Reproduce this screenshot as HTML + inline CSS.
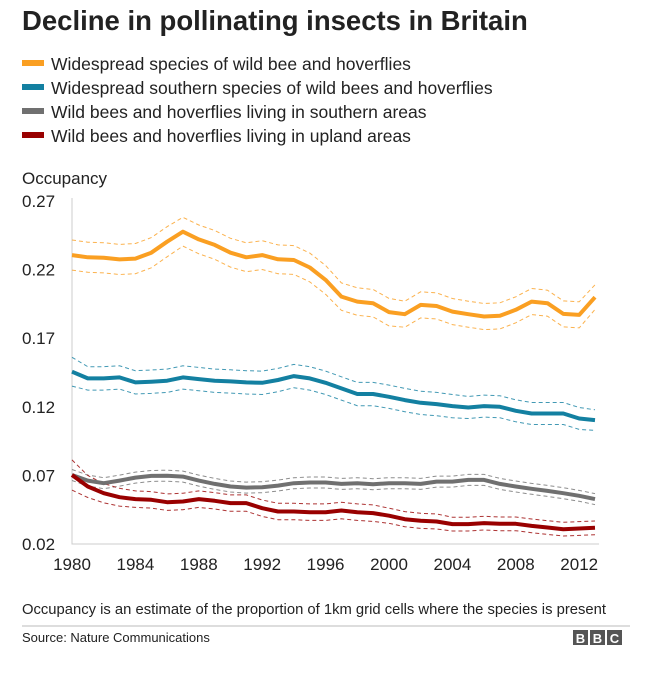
<!DOCTYPE html>
<html><head><meta charset="utf-8"><style>
body{margin:0;background:#fff;font-family:"Liberation Sans",Arial,sans-serif;}
#wrap{position:relative;width:652px;height:679px;overflow:hidden;}
.t{position:absolute;color:#222;white-space:nowrap;}
</style></head><body>
<div id="wrap">
<div class="t" style="left:22px;top:5px;font-size:27.5px;font-weight:bold;">Decline in pollinating insects in Britain</div>
<svg id="ch" width="652" height="679" style="position:absolute;left:0;top:0"></svg>
</div>
<script>
const years=[];for(let y=1980;y<=2013;y++)years.push(y);
const xTicks=[1980,1984,1988,1992,1996,2000,2004,2008,2012];
const yTicks=[0.02,0.07,0.12,0.17,0.22,0.27];
const seriesNames=["Widespread species of wild bee and hoverflies","Widespread southern species of wild bees and hoverflies","Wild bees and hoverflies living in southern areas","Wild bees and hoverflies living in upland areas"];
const colors=["#fa9f22","#1380a1","#707070","#990000"];
const orange=[0.2306,0.229,0.2286,0.2274,0.228,0.2323,0.2403,0.2476,0.242,0.238,0.2323,0.229,0.2306,0.2275,0.227,0.2215,0.2125,0.2003,0.1967,0.1955,0.189,0.1875,0.1943,0.1935,0.1894,0.1875,0.1858,0.1863,0.1907,0.1967,0.1955,0.1877,0.187,0.1999];
const teal=[0.1456,0.1407,0.1407,0.1414,0.1378,0.1383,0.139,0.1414,0.1402,0.139,0.1385,0.1378,0.1375,0.1395,0.1424,0.1407,0.1375,0.1334,0.1293,0.1293,0.1273,0.1249,0.1229,0.122,0.1205,0.1195,0.1205,0.12,0.1171,0.1151,0.1151,0.1151,0.1115,0.1103];
const grey=[0.0703,0.0662,0.0643,0.0662,0.0684,0.0696,0.0698,0.0691,0.0662,0.0638,0.0619,0.0611,0.0614,0.0626,0.0643,0.0648,0.0648,0.0638,0.0643,0.0636,0.0643,0.0643,0.0638,0.0655,0.0655,0.0667,0.0667,0.0638,0.0619,0.0602,0.0587,0.057,0.0551,0.0527];
const red=[0.0703,0.0619,0.057,0.0541,0.0527,0.0522,0.0505,0.051,0.0527,0.0515,0.0498,0.0498,0.0461,0.0437,0.0437,0.0432,0.0432,0.0444,0.0432,0.0425,0.0406,0.0381,0.0369,0.0364,0.0345,0.0345,0.0352,0.0347,0.0347,0.0332,0.032,0.0308,0.0313,0.0318];
const ciOrange=[0.011,0.011,0.011,0.011,0.011,0.011,0.011,0.0105,0.0105,0.0105,0.0105,0.0105,0.0105,0.0105,0.0105,0.0105,0.0105,0.01,0.01,0.01,0.01,0.0095,0.0095,0.0095,0.0095,0.0095,0.0095,0.0095,0.0095,0.0095,0.0095,0.0095,0.0095,0.009];
const ciTeal=[0.0105,0.0085,0.0085,0.0085,0.0085,0.0085,0.0085,0.0085,0.0085,0.0085,0.0085,0.0085,0.0085,0.0085,0.0085,0.0085,0.0085,0.0085,0.0085,0.0085,0.0085,0.0085,0.0085,0.0085,0.0085,0.008,0.008,0.008,0.008,0.008,0.008,0.008,0.008,0.0075];
const ciGrey=[0.004,0.004,0.004,0.004,0.004,0.004,0.004,0.004,0.004,0.004,0.004,0.004,0.004,0.004,0.004,0.004,0.004,0.004,0.004,0.004,0.004,0.004,0.004,0.004,0.004,0.004,0.004,0.004,0.004,0.004,0.004,0.004,0.004,0.004];
const ciRed=[0.011,0.008,0.007,0.0065,0.006,0.006,0.006,0.006,0.006,0.006,0.006,0.006,0.006,0.006,0.006,0.006,0.006,0.006,0.006,0.006,0.0055,0.0055,0.0055,0.0055,0.005,0.005,0.005,0.005,0.005,0.005,0.005,0.005,0.005,0.005];
const series=[orange,teal,grey,red];
const cis=[ciOrange,ciTeal,ciGrey,ciRed];
const NS="http://www.w3.org/2000/svg";
const svg=document.getElementById('ch');
const X=y=>72+(y-1980)*15.85;
const Y=v=>201+(0.27-v)*1372;
const FF='Liberation Sans, Arial, sans-serif';
function mk(tag,attrs,parent){const e=document.createElementNS(NS,tag);for(const k in attrs)e.setAttribute(k,attrs[k]);(parent||svg).appendChild(e);return e;}
seriesNames.forEach((n,i)=>{
 const g=mk('g',{});
 
 
 const yy=64+i*24;
 mk('rect',{x:22,y:yy-4,width:22,height:6,fill:colors[i]},g);
 const t=mk('text',{x:51,y:yy+6,'font-size':17.5,fill:'#222','font-family':FF},g);t.textContent=n;
});
const yt=mk('text',{x:22,y:184,'font-size':17,fill:'#222','font-family':FF});yt.textContent='Occupancy';


yTicks.forEach(v=>{
 const t=mk('text',{x:22,y:Y(v)+6,'font-size':17,fill:'#222','font-family':FF});t.textContent=v.toFixed(2);
 
 
});
xTicks.forEach(v=>{
 const t=mk('text',{x:X(v),y:570,'font-size':17,fill:'#222','text-anchor':'middle','font-family':FF});t.textContent=v;
 
 
});
const ax=mk('path',{d:`M${X(1980)} 198 V${Y(0.02)} H${X(2013)+4}`,stroke:'#ccc','stroke-width':1,fill:'none'});


const pathOf=arr=>arr.map((v,i)=>(i?'L':'M')+X(years[i]).toFixed(1)+' '+Y(v).toFixed(1)).join(' ');
series.forEach((s,k)=>{
 const up=s.map((v,i)=>v+cis[k][i]), lo=s.map((v,i)=>v-cis[k][i]);
 [up,lo].forEach(b=>{
  const p=mk('path',{d:pathOf(b),stroke:colors[k],'stroke-width':1,'stroke-dasharray':'4,3',fill:'none',opacity:0.8});
  
  
 });
});
series.forEach((s,k)=>{
 const p=mk('path',{d:pathOf(s),stroke:colors[k],'stroke-width':4,fill:'none','stroke-linejoin':'round'});
 
 
});
const fn=mk('text',{x:22,y:614,'font-size':14.8,fill:'#222','font-family':FF});fn.textContent='Occupancy is an estimate of the proportion of 1km grid cells where the species is present';


const ln=mk('line',{x1:22,x2:630,y1:626,y2:626,stroke:'#bbb','stroke-width':1});


const src=mk('text',{x:22,y:642,'font-size':13,fill:'#222','font-family':FF});src.textContent='Source: Nature Communications';


const logo=mk('g',{});


['B','B','C'].forEach((c,i)=>{
 mk('rect',{x:573+i*17,y:630,width:15,height:15,fill:'#555'},logo);
 const t=mk('text',{x:580.5+i*17,y:643,'font-size':13,'font-weight':'bold',fill:'#fff','text-anchor':'middle','font-family':FF},logo);t.textContent=c;
});
</script>
</body></html>
